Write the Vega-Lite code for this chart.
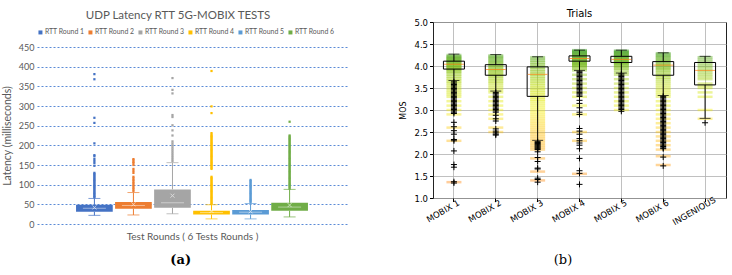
{
  "$schema": "https://vega.github.io/schema/vega-lite/v6.json",
  "padding": {"left": 2, "top": 8, "right": 4, "bottom": 2},
  "background": "white",
  "config": {"view": {"stroke": null}, "font": "DejaVu Sans"},
  "spacing": 52,
  "resolve": {"scale": {"color": "independent", "x": "independent", "y": "independent"}, "legend": {"color": "independent"}},
  "datasets": {
    "latBox": [
      {"round": "RTT Round 1", "lo": 22, "q1": 31, "med": 40, "q3": 49, "hi": 65, "mean": 42},
      {"round": "RTT Round 2", "lo": 23, "q1": 39, "med": 47, "q3": 56, "hi": 80, "mean": 50},
      {"round": "RTT Round 3", "lo": 26, "q1": 41, "med": 54, "q3": 88, "hi": 156, "mean": 72},
      {"round": "RTT Round 4", "lo": 13, "q1": 24, "med": 29, "q3": 34, "hi": 49, "mean": 33},
      {"round": "RTT Round 5", "lo": 13, "q1": 24, "med": 30, "q3": 35.5, "hi": 52, "mean": 32},
      {"round": "RTT Round 6", "lo": 18, "q1": 34, "med": 43, "q3": 54, "hi": 88, "mean": 48}
    ],
    "latOut": [
      {"round": "RTT Round 1", "vals": [381, 368, 270, 257, 205, 175, 172, 165, 160, 155, 148, 130, 127, 124, 121, 118, 115, 112, 109, 106, 103, 100, 97, 94, 91, 88, 85, 82, 79, 76, 73, 70, 68]},
      {"round": "RTT Round 2", "vals": [165, 162, 158, 155, 150, 140, 135, 130, 120, 116, 112, 108, 104, 100, 96, 92, 88, 84]},
      {"round": "RTT Round 3", "vals": [371, 341, 332, 277, 272, 251, 238, 225, 210, 205, 200, 195, 190, 185, 180, 175, 170, 165, 160]},
      {"round": "RTT Round 4", "vals": [389, 299, 282, 231, 227, 224, 221, 218, 215, 212, 209, 206, 203, 200, 197, 194, 191, 188, 185, 182, 179, 176, 173, 170, 167, 164, 161, 158, 155, 152, 149, 146, 143, 140, 120, 117, 114, 111, 108, 105, 102, 99, 96, 93, 90, 87, 84, 81, 78, 75, 72, 69, 66, 63, 60, 57, 54, 51]},
      {"round": "RTT Round 5", "vals": [112, 109, 106, 103, 100, 97, 94, 91, 88, 85, 82, 79, 76, 73, 70, 67, 64, 61, 58, 55]},
      {"round": "RTT Round 6", "vals": [260, 225, 222, 219, 216, 213, 210, 207, 204, 201, 198, 195, 192, 189, 186, 183, 180, 177, 174, 171, 168, 165, 162, 159, 156, 153, 150, 147, 144, 141, 138, 135, 132, 129, 126, 123, 120, 117, 114, 111, 108, 105, 102, 99, 96, 93, 90]}
    ],
    "mosBox": [
      {"cat": "MOBIX 1", "lo": 3.67, "q1": 3.93, "med": 4.04, "q3": 4.11, "hi": 4.27},
      {"cat": "MOBIX 2", "lo": 3.43, "q1": 3.79, "med": 3.92, "q3": 4.03, "hi": 4.26},
      {"cat": "MOBIX 3", "lo": 2.31, "q1": 3.31, "med": 3.81, "q3": 3.98, "hi": 4.21},
      {"cat": "MOBIX 4", "lo": 3.9, "q1": 4.11, "med": 4.17, "q3": 4.23, "hi": 4.36},
      {"cat": "MOBIX 5", "lo": 3.84, "q1": 4.08, "med": 4.15, "q3": 4.22, "hi": 4.36},
      {"cat": "MOBIX 6", "lo": 3.33, "q1": 3.79, "med": 4.02, "q3": 4.1, "hi": 4.3},
      {"cat": "INGENIOUS", "lo": 2.81, "q1": 3.57, "med": 3.9, "q3": 4.08, "hi": 4.22}
    ],
    "mosOut": [
      {"cat": "MOBIX 1", "vals": [3.64, 3.61, 3.58, 3.55, 3.52, 3.49, 3.46, 3.43, 3.4, 3.37, 3.34, 3.31, 3.28, 3.25, 3.22, 3.19, 3.16, 3.13, 3.1, 3.07, 3.04, 3.01, 2.98, 2.95, 2.92, 2.72, 2.62, 2.53, 2.45, 2.33, 2.3, 2.07, 1.76, 1.7, 1.37, 1.34]},
      {"cat": "MOBIX 2", "vals": [3.4, 3.37, 3.34, 3.31, 3.28, 3.25, 3.22, 3.19, 3.16, 3.13, 3.1, 3.07, 3.04, 3.01, 2.98, 2.95, 2.88, 2.8, 2.75, 2.57, 2.52, 2.48, 2.45, 2.43]},
      {"cat": "MOBIX 3", "vals": [2.28, 2.26, 2.24, 2.22, 2.2, 2.18, 2.16, 2.14, 2.12, 2.1, 2.05, 1.92, 1.83, 1.68, 1.66, 1.45, 1.42, 1.36]},
      {"cat": "MOBIX 4", "vals": [3.88, 3.85, 3.82, 3.79, 3.76, 3.73, 3.7, 3.67, 3.64, 3.61, 3.58, 3.55, 3.52, 3.49, 3.46, 3.43, 3.4, 3.37, 3.34, 3.31, 3.22, 3.15, 3.05, 2.95, 2.9, 2.58, 2.52, 2.45, 2.35, 2.3, 2.25, 2.2, 2.12, 1.9, 1.62, 1.56, 1.31]},
      {"cat": "MOBIX 5", "vals": [3.82, 3.79, 3.76, 3.73, 3.7, 3.67, 3.64, 3.61, 3.58, 3.55, 3.52, 3.49, 3.46, 3.43, 3.4, 3.37, 3.34, 3.31, 3.28, 3.25, 3.22, 3.19, 3.16, 3.13, 3.1, 3.07, 3.04, 3.01, 2.97]},
      {"cat": "MOBIX 6", "vals": [3.31, 3.28, 3.25, 3.22, 3.19, 3.16, 3.13, 3.1, 3.07, 3.04, 3.01, 2.98, 2.95, 2.92, 2.89, 2.86, 2.83, 2.8, 2.77, 2.74, 2.71, 2.68, 2.65, 2.62, 2.59, 2.56, 2.53, 2.5, 2.47, 2.44, 2.41, 2.38, 2.35, 2.32, 2.29, 2.26, 2.23, 2.2, 2.17, 2.14, 2.12, 1.93, 1.73]},
      {"cat": "INGENIOUS", "vals": [2.71]}
    ],
    "mosPts": [
      {"cat": "MOBIX 1", "vals": [4.25, 4.22, 4.2, 4.18, 4.16, 4.14, 4.12, 4.1, 4.08, 4.06, 4.04, 4.02, 4.0, 3.98, 3.96, 3.94, 3.92, 3.9, 3.87, 3.84, 3.8, 3.76, 3.72, 3.68, 3.64, 3.6, 3.55, 3.5, 3.45, 3.4, 3.35, 3.3, 3.2, 3.1, 3.0, 2.9, 2.6, 2.3, 1.36]},
      {"cat": "MOBIX 2", "vals": [4.24, 4.21, 4.18, 4.15, 4.12, 4.09, 4.06, 4.03, 4.0, 3.97, 3.94, 3.91, 3.88, 3.85, 3.82, 3.79, 3.76, 3.72, 3.68, 3.64, 3.6, 3.55, 3.5, 3.45, 3.4, 3.3, 3.2, 3.1, 3.0, 2.9, 2.8, 2.6, 2.5]},
      {"cat": "MOBIX 3", "vals": [4.2, 4.16, 4.12, 4.08, 4.04, 4.0, 3.96, 3.92, 3.88, 3.84, 3.8, 3.76, 3.72, 3.68, 3.64, 3.6, 3.56, 3.52, 3.48, 3.44, 3.4, 3.36, 3.32, 3.28, 3.24, 3.2, 3.15, 3.1, 3.05, 3.0, 2.95, 2.9, 2.85, 2.8, 2.75, 2.7, 2.65, 2.6, 2.55, 2.5, 2.45, 2.4, 2.35, 2.3, 2.25, 2.2, 2.15, 2.1, 1.9, 1.6, 1.4]},
      {"cat": "MOBIX 4", "vals": [4.36, 4.34, 4.32, 4.3, 4.28, 4.26, 4.24, 4.22, 4.2, 4.18, 4.16, 4.14, 4.12, 4.1, 4.08, 4.06, 4.04, 4.02, 4.0, 3.97, 3.94, 3.9, 3.8, 3.7, 3.6, 3.5, 3.4, 3.3, 3.1, 2.9, 2.5, 2.3, 1.55]},
      {"cat": "MOBIX 5", "vals": [4.35, 4.33, 4.31, 4.29, 4.27, 4.25, 4.23, 4.21, 4.19, 4.17, 4.15, 4.13, 4.11, 4.09, 4.07, 4.05, 4.03, 4.0, 3.97, 3.94, 3.9, 3.85, 3.8, 3.7, 3.6, 3.5, 3.4, 3.3, 3.2, 3.1, 3.0]},
      {"cat": "MOBIX 6", "vals": [4.29, 4.26, 4.23, 4.2, 4.17, 4.14, 4.11, 4.08, 4.05, 4.02, 3.99, 3.96, 3.93, 3.9, 3.86, 3.82, 3.78, 3.74, 3.7, 3.65, 3.6, 3.55, 3.5, 3.45, 3.4, 3.35, 3.3, 3.2, 3.1, 3.0, 2.9, 2.8, 2.7, 2.6, 2.5, 2.4, 2.3, 2.2, 2.1, 1.95, 1.75]},
      {"cat": "INGENIOUS", "vals": [4.2, 4.15, 4.1, 4.05, 4.0, 3.95, 3.9, 3.85, 3.8, 3.75, 3.7, 3.6, 3.55, 3.5, 3.4, 3.3, 3.0, 2.8]}
    ]
  },
  "hconcat": [
    {
      "title": {"text": "(a)", "orient": "bottom", "anchor": "middle", "font": "DejaVu Serif", "fontSize": 13, "fontWeight": "bold", "color": "#000000", "offset": 13, "dx": 6},
      "spacing": 7,
      "resolve": {"legend": {"color": "independent"}},
      "vconcat": [
        {
          "width": 310,
          "height": 1,
          "data": {"name": "latBox"},
          "title": {"text": "UDP Latency RTT 5G-MOBIX TESTS", "font": "Lato", "fontSize": 11.5, "fontWeight": "normal", "color": "#595959", "anchor": "middle", "frame": "group", "offset": -5, "dx": -14},
          "mark": {"type": "text", "text": ""},
          "encoding": {
            "color": {"field": "round", "type": "nominal",
              "scale": {"domain": ["RTT Round 1", "RTT Round 2", "RTT Round 3", "RTT Round 4", "RTT Round 5", "RTT Round 6"], "range": ["#4472C4", "#ED7D31", "#A5A5A5", "#FFC000", "#5B9BD5", "#70AD47"]},
              "legend": {"orient": "bottom", "direction": "horizontal", "columns": 6, "gridAlign": "none", "title": null, "symbolType": "square", "symbolSize": 16, "symbolStrokeWidth": 0, "symbolOpacity": 1, "labelFont": "Lato", "labelFontSize": 6.9, "labelColor": "#595959", "labelOffset": 1, "columnPadding": 2, "offset": 6}}
          }
        },
        {
          "width": 310,
          "height": 177,
          "encoding": {
            "x": {
              "field": "round", "type": "nominal",
              "scale": {"domain": ["RTT Round 1", "RTT Round 2", "RTT Round 3", "RTT Round 4", "RTT Round 5", "RTT Round 6"], "paddingInner": 0.06, "paddingOuter": 2.99},
              "axis": {"labels": false, "ticks": false, "domain": false, "grid": false, "title": "Test Rounds ( 6 Tests Rounds )", "titleFont": "Lato", "titleFontSize": 10, "titleFontWeight": "normal", "titleColor": "#595959", "titlePadding": 7}
            }
          },
          "layer": [
            {
              "data": {"name": "latBox"},
              "mark": {"type": "bar"},
              "encoding": {
                "y": {"field": "q1", "type": "quantitative", "scale": {"domain": [0, 450], "nice": false},
                  "axis": {"values": [0, 50, 100, 150, 200, 250, 300, 350, 400, 450], "domain": false, "ticks": false, "grid": true, "gridColor": "#5B8BD6", "gridDash": [2, 2], "gridWidth": 1, "labelFont": "Lato", "labelFontSize": 9, "labelColor": "#595959", "labelPadding": 3, "title": "Latency (milliseconds)", "titleFont": "Lato", "titleFontSize": 10.5, "titleFontWeight": "normal", "titleColor": "#595959", "titlePadding": 6}},
                "y2": {"field": "q3"},
                "color": {"field": "round", "type": "nominal", "legend": null}
              }
            },
            {
              "data": {"name": "latBox"},
              "mark": {"type": "rule", "strokeWidth": 1},
              "encoding": {"y": {"field": "lo", "type": "quantitative", "scale": {"domain": [0, 450], "nice": false},
                  "axis": {"values": [0, 50, 100, 150, 200, 250, 300, 350, 400, 450], "domain": false, "ticks": false, "grid": true, "gridColor": "#5B8BD6", "gridDash": [2, 2], "gridWidth": 1, "labelFont": "Lato", "labelFontSize": 9, "labelColor": "#595959", "labelPadding": 3, "title": "Latency (milliseconds)", "titleFont": "Lato", "titleFontSize": 10.5, "titleFontWeight": "normal", "titleColor": "#595959", "titlePadding": 6}},
                "y2": {"field": "q1"}, "color": {"field": "round", "type": "nominal", "legend": null}}
            },
            {
              "data": {"name": "latBox"},
              "mark": {"type": "rule", "strokeWidth": 1},
              "encoding": {"y": {"field": "q3", "type": "quantitative", "scale": {"domain": [0, 450], "nice": false},
                  "axis": {"values": [0, 50, 100, 150, 200, 250, 300, 350, 400, 450], "domain": false, "ticks": false, "grid": true, "gridColor": "#5B8BD6", "gridDash": [2, 2], "gridWidth": 1, "labelFont": "Lato", "labelFontSize": 9, "labelColor": "#595959", "labelPadding": 3, "title": "Latency (milliseconds)", "titleFont": "Lato", "titleFontSize": 10.5, "titleFontWeight": "normal", "titleColor": "#595959", "titlePadding": 6}},
                "y2": {"field": "hi"}, "color": {"field": "round", "type": "nominal", "legend": null}}
            },
            {
              "data": {"name": "latBox"},
              "mark": {"type": "tick", "size": 12, "thickness": 1},
              "encoding": {"y": {"field": "lo", "type": "quantitative", "scale": {"domain": [0, 450], "nice": false},
                  "axis": {"values": [0, 50, 100, 150, 200, 250, 300, 350, 400, 450], "domain": false, "ticks": false, "grid": true, "gridColor": "#5B8BD6", "gridDash": [2, 2], "gridWidth": 1, "labelFont": "Lato", "labelFontSize": 9, "labelColor": "#595959", "labelPadding": 3, "title": "Latency (milliseconds)", "titleFont": "Lato", "titleFontSize": 10.5, "titleFontWeight": "normal", "titleColor": "#595959", "titlePadding": 6}},
                "color": {"field": "round", "type": "nominal", "legend": null}}
            },
            {
              "data": {"name": "latBox"},
              "mark": {"type": "tick", "size": 12, "thickness": 1},
              "encoding": {"y": {"field": "hi", "type": "quantitative", "scale": {"domain": [0, 450], "nice": false},
                  "axis": {"values": [0, 50, 100, 150, 200, 250, 300, 350, 400, 450], "domain": false, "ticks": false, "grid": true, "gridColor": "#5B8BD6", "gridDash": [2, 2], "gridWidth": 1, "labelFont": "Lato", "labelFontSize": 9, "labelColor": "#595959", "labelPadding": 3, "title": "Latency (milliseconds)", "titleFont": "Lato", "titleFontSize": 10.5, "titleFontWeight": "normal", "titleColor": "#595959", "titlePadding": 6}},
                "color": {"field": "round", "type": "nominal", "legend": null}}
            },
            {
              "data": {"name": "latOut"},
              "transform": [{"flatten": ["vals"], "as": ["v"]}],
              "mark": {"type": "point", "shape": "square", "filled": true, "size": 5, "opacity": 1},
              "encoding": {"y": {"field": "v", "type": "quantitative", "scale": {"domain": [0, 450], "nice": false},
                  "axis": {"values": [0, 50, 100, 150, 200, 250, 300, 350, 400, 450], "domain": false, "ticks": false, "grid": true, "gridColor": "#5B8BD6", "gridDash": [2, 2], "gridWidth": 1, "labelFont": "Lato", "labelFontSize": 9, "labelColor": "#595959", "labelPadding": 3, "title": "Latency (milliseconds)", "titleFont": "Lato", "titleFontSize": 10.5, "titleFontWeight": "normal", "titleColor": "#595959", "titlePadding": 6}},
                "color": {"field": "round", "type": "nominal", "legend": null}}
            },
            {
              "data": {"name": "latBox"},
              "mark": {"type": "tick", "color": "#ffffff", "opacity": 0.45, "thickness": 1, "size": 23},
              "encoding": {"y": {"field": "med", "type": "quantitative", "scale": {"domain": [0, 450], "nice": false},
                  "axis": {"values": [0, 50, 100, 150, 200, 250, 300, 350, 400, 450], "domain": false, "ticks": false, "grid": true, "gridColor": "#5B8BD6", "gridDash": [2, 2], "gridWidth": 1, "labelFont": "Lato", "labelFontSize": 9, "labelColor": "#595959", "labelPadding": 3, "title": "Latency (milliseconds)", "titleFont": "Lato", "titleFontSize": 10.5, "titleFontWeight": "normal", "titleColor": "#595959", "titlePadding": 6}}}
            },
            {
              "data": {"name": "latBox"},
              "mark": {"type": "point", "shape": "M-1,-1L1,1M1,-1L-1,1", "size": 16, "color": "#ffffff", "opacity": 0.6, "strokeWidth": 1},
              "encoding": {"y": {"field": "mean", "type": "quantitative", "scale": {"domain": [0, 450], "nice": false},
                  "axis": {"values": [0, 50, 100, 150, 200, 250, 300, 350, 400, 450], "domain": false, "ticks": false, "grid": true, "gridColor": "#5B8BD6", "gridDash": [2, 2], "gridWidth": 1, "labelFont": "Lato", "labelFontSize": 9, "labelColor": "#595959", "labelPadding": 3, "title": "Latency (milliseconds)", "titleFont": "Lato", "titleFontSize": 10.5, "titleFontWeight": "normal", "titleColor": "#595959", "titlePadding": 6}}}
            }
          ]
        }
      ]
    },
    {
      "title": {"text": "(b)", "orient": "bottom", "anchor": "middle", "font": "DejaVu Serif", "fontSize": 13, "fontWeight": "normal", "color": "#000000", "offset": 27},
      "hconcat": [
        {
          "width": 293,
          "height": 176,
          "view": {"stroke": "#222222", "strokeWidth": 1},
          "title": {"text": "Trials", "font": "DejaVu Sans", "fontSize": 10, "fontWeight": "normal", "color": "#000000", "anchor": "middle", "frame": "group", "offset": -1},
          "encoding": {
            "x": {
              "field": "cat", "type": "nominal",
              "scale": {"domain": ["MOBIX 1", "MOBIX 2", "MOBIX 3", "MOBIX 4", "MOBIX 5", "MOBIX 6", "INGENIOUS"], "paddingInner": 0, "paddingOuter": 0},
              "axis": {"title": null, "grid": true, "gridColor": "#b0b0b0", "gridWidth": 0.8, "domain": false, "ticks": true, "tickColor": "#000000", "tickSize": 3.5, "labelAngle": -30, "labelAlign": "center", "labelBaseline": "middle", "labelPadding": 9, "labelOffset": -11, "labelFont": "DejaVu Sans", "labelFontSize": 8.5, "labelColor": "#000000"}
            }
          },
          "layer": [
            {
              "data": {"name": "mosPts"},
              "transform": [{"flatten": ["vals"], "as": ["v"]}],
              "mark": {"type": "tick", "size": 15, "thickness": 2.5, "opacity": 0.4},
              "encoding": {
                "y": {"field": "v", "type": "quantitative", "scale": {"domain": [1, 5], "nice": false},
                  "axis": {"values": [1, 1.5, 2, 2.5, 3, 3.5, 4, 4.5, 5], "format": ".1f", "grid": true, "gridColor": "#b0b0b0", "gridWidth": 0.8, "domain": false, "tickColor": "#000000", "tickSize": 3.5, "labelFont": "DejaVu Sans", "labelFontSize": 8.5, "labelColor": "#000000", "labelPadding": 2, "title": "MOS", "titleFont": "DejaVu Sans", "titleFontSize": 8, "titleFontWeight": "normal", "titleColor": "#000000", "titlePadding": 6}},
                "color": {"field": "v", "type": "quantitative", "scale": {"domain": [1.5, 2.4, 3.0, 3.5, 4.0], "range": ["#ff8a00", "#ffb800", "#f2ee00", "#c6e000", "#6cb400"]}, "legend": null}
              }
            },
            {
              "data": {"name": "mosBox"},
              "mark": {"type": "rule", "color": "#000000", "strokeWidth": 1},
              "encoding": {"y": {"field": "lo", "type": "quantitative", "scale": {"domain": [1, 5], "nice": false},
                  "axis": {"values": [1, 1.5, 2, 2.5, 3, 3.5, 4, 4.5, 5], "format": ".1f", "grid": true, "gridColor": "#b0b0b0", "gridWidth": 0.8, "domain": false, "tickColor": "#000000", "tickSize": 3.5, "labelFont": "DejaVu Sans", "labelFontSize": 8.5, "labelColor": "#000000", "labelPadding": 2, "title": "MOS", "titleFont": "DejaVu Sans", "titleFontSize": 8, "titleFontWeight": "normal", "titleColor": "#000000", "titlePadding": 6}},
                "y2": {"field": "q1"}}
            },
            {
              "data": {"name": "mosBox"},
              "mark": {"type": "rule", "color": "#000000", "strokeWidth": 1},
              "encoding": {"y": {"field": "q3", "type": "quantitative", "scale": {"domain": [1, 5], "nice": false},
                  "axis": {"values": [1, 1.5, 2, 2.5, 3, 3.5, 4, 4.5, 5], "format": ".1f", "grid": true, "gridColor": "#b0b0b0", "gridWidth": 0.8, "domain": false, "tickColor": "#000000", "tickSize": 3.5, "labelFont": "DejaVu Sans", "labelFontSize": 8.5, "labelColor": "#000000", "labelPadding": 2, "title": "MOS", "titleFont": "DejaVu Sans", "titleFontSize": 8, "titleFontWeight": "normal", "titleColor": "#000000", "titlePadding": 6}},
                "y2": {"field": "hi"}}
            },
            {
              "data": {"name": "mosBox"},
              "mark": {"type": "tick", "color": "#000000", "size": 11, "thickness": 1},
              "encoding": {"y": {"field": "lo", "type": "quantitative", "scale": {"domain": [1, 5], "nice": false},
                  "axis": {"values": [1, 1.5, 2, 2.5, 3, 3.5, 4, 4.5, 5], "format": ".1f", "grid": true, "gridColor": "#b0b0b0", "gridWidth": 0.8, "domain": false, "tickColor": "#000000", "tickSize": 3.5, "labelFont": "DejaVu Sans", "labelFontSize": 8.5, "labelColor": "#000000", "labelPadding": 2, "title": "MOS", "titleFont": "DejaVu Sans", "titleFontSize": 8, "titleFontWeight": "normal", "titleColor": "#000000", "titlePadding": 6}}}
            },
            {
              "data": {"name": "mosBox"},
              "mark": {"type": "tick", "color": "#000000", "size": 11, "thickness": 1},
              "encoding": {"y": {"field": "hi", "type": "quantitative", "scale": {"domain": [1, 5], "nice": false},
                  "axis": {"values": [1, 1.5, 2, 2.5, 3, 3.5, 4, 4.5, 5], "format": ".1f", "grid": true, "gridColor": "#b0b0b0", "gridWidth": 0.8, "domain": false, "tickColor": "#000000", "tickSize": 3.5, "labelFont": "DejaVu Sans", "labelFontSize": 8.5, "labelColor": "#000000", "labelPadding": 2, "title": "MOS", "titleFont": "DejaVu Sans", "titleFontSize": 8, "titleFontWeight": "normal", "titleColor": "#000000", "titlePadding": 6}}}
            },
            {
              "data": {"name": "mosBox"},
              "mark": {"type": "bar", "fill": "transparent", "stroke": "#000000", "strokeWidth": 1, "size": 21},
              "encoding": {"y": {"field": "q1", "type": "quantitative", "scale": {"domain": [1, 5], "nice": false},
                  "axis": {"values": [1, 1.5, 2, 2.5, 3, 3.5, 4, 4.5, 5], "format": ".1f", "grid": true, "gridColor": "#b0b0b0", "gridWidth": 0.8, "domain": false, "tickColor": "#000000", "tickSize": 3.5, "labelFont": "DejaVu Sans", "labelFontSize": 8.5, "labelColor": "#000000", "labelPadding": 2, "title": "MOS", "titleFont": "DejaVu Sans", "titleFontSize": 8, "titleFontWeight": "normal", "titleColor": "#000000", "titlePadding": 6}},
                "y2": {"field": "q3"}}
            },
            {
              "data": {"name": "mosBox"},
              "mark": {"type": "tick", "color": "#ff7f0e", "size": 20, "thickness": 1},
              "encoding": {"y": {"field": "med", "type": "quantitative", "scale": {"domain": [1, 5], "nice": false},
                  "axis": {"values": [1, 1.5, 2, 2.5, 3, 3.5, 4, 4.5, 5], "format": ".1f", "grid": true, "gridColor": "#b0b0b0", "gridWidth": 0.8, "domain": false, "tickColor": "#000000", "tickSize": 3.5, "labelFont": "DejaVu Sans", "labelFontSize": 8.5, "labelColor": "#000000", "labelPadding": 2, "title": "MOS", "titleFont": "DejaVu Sans", "titleFontSize": 8, "titleFontWeight": "normal", "titleColor": "#000000", "titlePadding": 6}}}
            },
            {
              "data": {"name": "mosOut"},
              "transform": [{"flatten": ["vals"], "as": ["v"]}],
              "mark": {"type": "point", "shape": "M-1,0L1,0M0,-1L0,1", "size": 36, "filled": false, "stroke": "#000000", "strokeWidth": 1, "opacity": 1},
              "encoding": {"y": {"field": "v", "type": "quantitative", "scale": {"domain": [1, 5], "nice": false},
                  "axis": {"values": [1, 1.5, 2, 2.5, 3, 3.5, 4, 4.5, 5], "format": ".1f", "grid": true, "gridColor": "#b0b0b0", "gridWidth": 0.8, "domain": false, "tickColor": "#000000", "tickSize": 3.5, "labelFont": "DejaVu Sans", "labelFontSize": 8.5, "labelColor": "#000000", "labelPadding": 2, "title": "MOS", "titleFont": "DejaVu Sans", "titleFontSize": 8, "titleFontWeight": "normal", "titleColor": "#000000", "titlePadding": 6}}}
            }
          ]
        }
      ]
    }
  ]
}
